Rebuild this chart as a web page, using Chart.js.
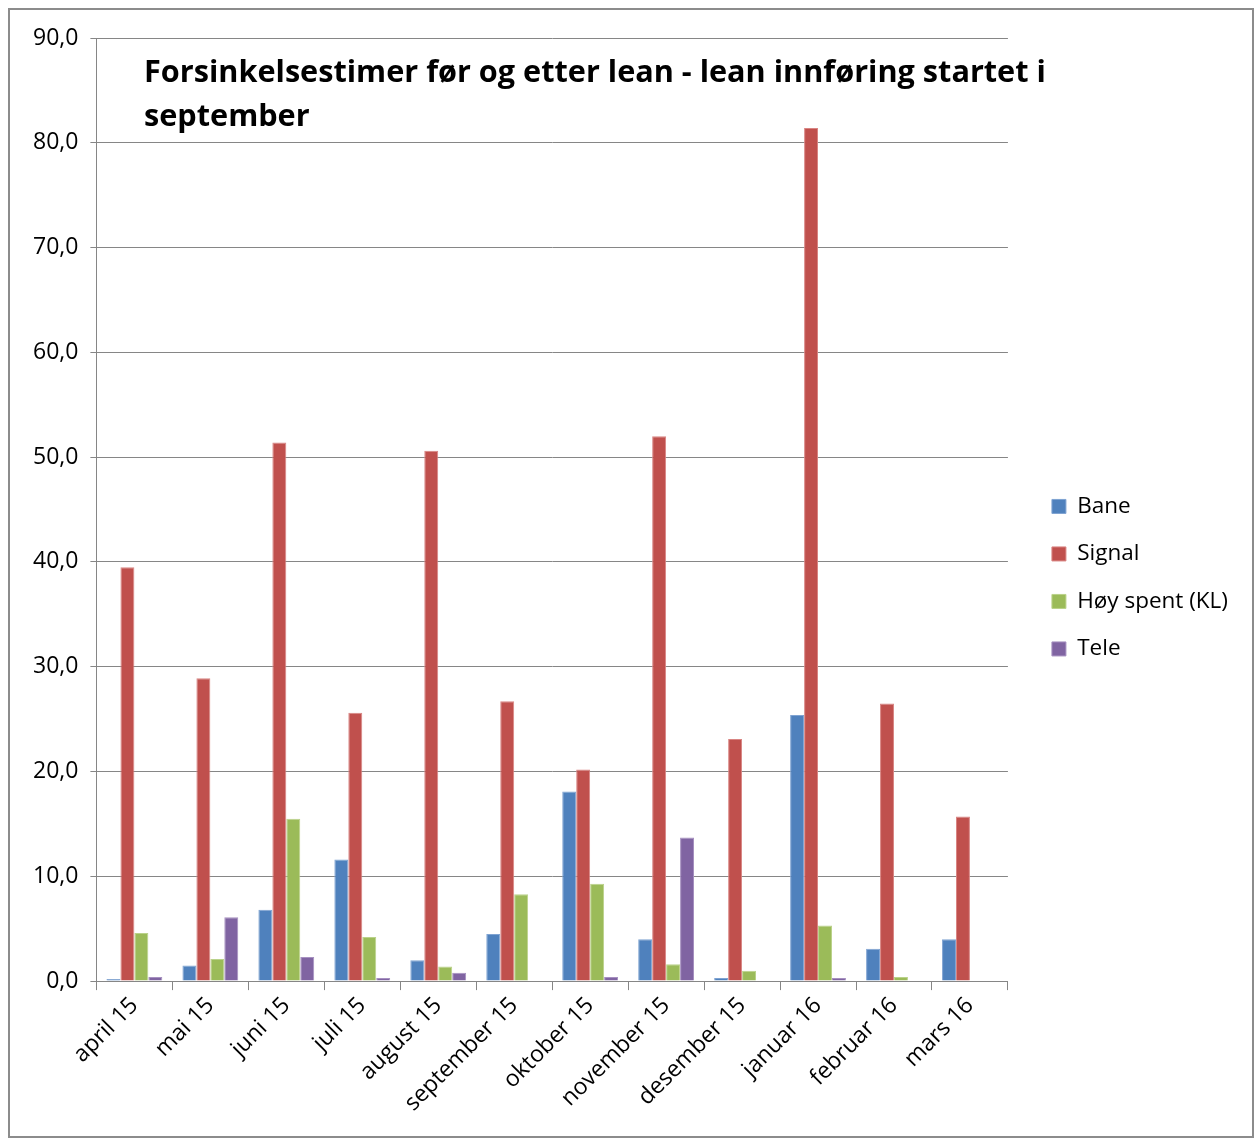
<!DOCTYPE html>
<html>
<head>
<meta charset="utf-8">
<script src="https://cdn.jsdelivr.net/npm/chart.js@4.4.1/dist/chart.umd.min.js"></script>
<style>
  html, body { margin: 0; padding: 0; background: #ffffff; }
  #frame { position: absolute; left: 8px; top: 8px; width: 1242px; height: 1126px; border: 2px solid #8c8c8c; background: #fff; }
  #wrap { position: absolute; left: 0; top: 0; width: 1242px; height: 1126px; }
</style>
</head>
<body>
<div id="frame"><div id="wrap"><canvas id="c" width="1242" height="1126"></canvas></div></div>
<script>
const categories = ["april 15","mai 15","juni 15","juli 15","august 15","september 15","oktober 15","november 15","desember 15","januar 16","februar 16","mars 16"];
const bane   = [0.2, 1.5, 6.8, 11.6, 2.0, 4.5, 18.1, 4.0, 0.3, 25.4, 3.1, 4.0];
const signal = [39.5, 28.9, 51.4, 25.6, 50.6, 26.7, 20.2, 52.0, 23.1, 81.4, 26.5, 15.7];
const hoySpent = [4.6, 2.1, 15.5, 4.2, 1.4, 8.3, 9.3, 1.6, 1.0, 5.3, 0.4, 0];
const tele   = [0.4, 6.1, 2.3, 0.3, 0.8, 0, 0.4, 13.7, 0, 0.3, 0, 0];
const seriesNames = ["Bane", "Signal", "Høy spent (KL)", "Tele"];
const titleLines = ["Forsinkelsestimer før og etter lean - lean innføring startet i", "september"];

const FONT = "'Open Sans', 'Noto Sans', sans-serif";
const gridCol = "#868686";

const titlePlugin = {
  id: 'overlayTitle',
  afterLayout(chart) {
    if (chart.legend) {
      chart.legend.left += 19; chart.legend.right += 19;
      chart.legend.top -= 16; chart.legend.bottom -= 16;
    }
  },
  afterDraw(chart) {
    const ctx = chart.ctx;
    ctx.save();
    ctx.fillStyle = '#000';
    ctx.textBaseline = 'alphabetic';
    ctx.textAlign = 'left';
    let size = 30;
    ctx.font = "bold " + size + "px " + FONT;
    const w = ctx.measureText(titleLines[0]).width;
    size = size * 902 / w;
    ctx.font = "bold " + size.toFixed(2) + "px " + FONT;
    ctx.fillText(titleLines[0], 134, 72);
    ctx.fillText(titleLines[1], 134, 116);
    ctx.restore();
  }
};

new Chart(document.getElementById('c'), {
  type: 'bar',
  data: {
    labels: categories,
    datasets: [
      { label: seriesNames[0], data: bane, backgroundColor: '#4F81BD', borderColor: '#7fa3d2', borderWidth: 1 },
      { label: seriesNames[1], data: signal, backgroundColor: '#C0504D', borderColor: '#d98583', borderWidth: 1 },
      { label: seriesNames[2], data: hoySpent, backgroundColor: '#9BBB59', borderColor: '#bad28a', borderWidth: 1 },
      { label: seriesNames[3], data: tele, backgroundColor: '#8064A2', borderColor: '#a690c0', borderWidth: 1 }
    ]
  },
  options: {
    responsive: false,
    animation: false,
    devicePixelRatio: 1,
    layout: { padding: { left: 11, top: 28, right: 33, bottom: 17 } },
    datasets: { bar: { categoryPercentage: 0.735, barPercentage: 1.0 } },
    plugins: {
      legend: {
        position: 'right',
        align: 'center',
        title: { display: true, text: ' ', padding: { top: 2, bottom: 2 }, font: { size: 22 } },
        labels: {
          boxWidth: 14, boxHeight: 14, padding: 25, color: '#000',
          font: { family: FONT, size: 22.5 }
        }
      },
      tooltip: { enabled: false }
    },
    scales: {
      x: {
        grid: { display: true, offset: true, drawOnChartArea: false, color: gridCol, tickLength: 9, tickColor: gridCol },
        border: { color: gridCol, width: 1 },
        ticks: { color: '#000', font: { family: FONT, size: 23 }, minRotation: 45, maxRotation: 45, padding: 2 }
      },
      y: {
        min: 0, max: 90,
        ticks: { stepSize: 10, color: '#000', font: { family: FONT, size: 23 }, padding: 12,
          callback: v => v.toFixed(1).replace('.', ',') },
        grid: { color: gridCol, lineWidth: 1, tickLength: 6, tickColor: gridCol },
        border: { color: gridCol, width: 1 }
      }
    }
  },
  plugins: [titlePlugin]
});
</script>
</body>
</html>
